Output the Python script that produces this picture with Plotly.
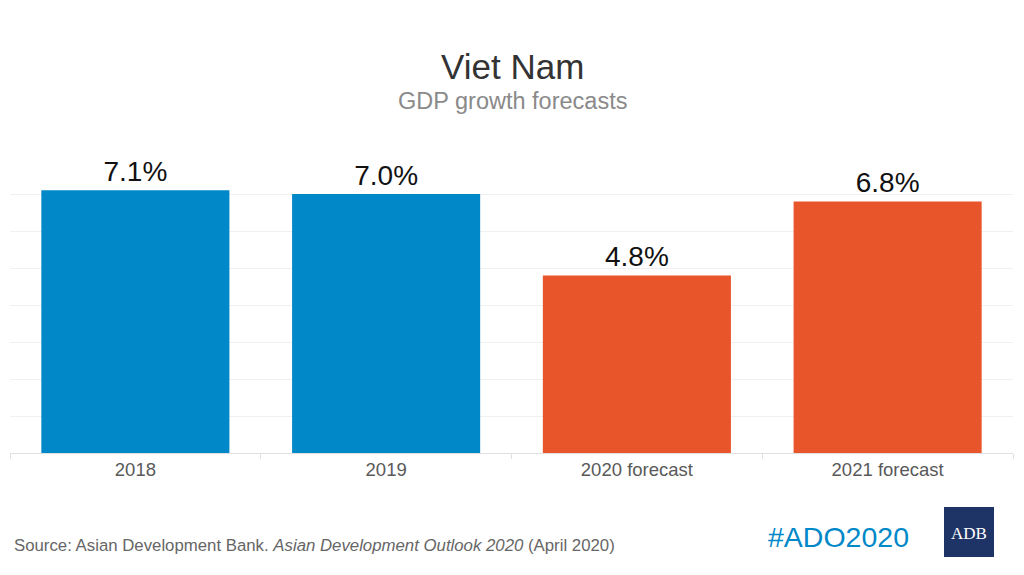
import plotly.graph_objects as go

categories = ["2018", "2019", "2020 forecast", "2021 forecast"]
growth = [7.1, 7.0, 4.8, 6.8]
bar_colors = ["#0088c8", "#0088c8", "#e8552b", "#e8552b"]
labels = [f"{v:.1f}%" for v in growth]

W, H = 1024, 575
L, R, T, B = 10, 11, 157, 122
pw, ph = W - L - R, H - T - B

def px(x):
    return (x - L) / pw

def py(y):
    return (H - B - y) / ph

fig = go.Figure()
fig.add_trace(go.Bar(
    x=categories, y=growth, marker_color=bar_colors, marker_line_width=0,
    width=0.75, text=labels, textposition="outside", cliponaxis=False,
    textfont=dict(family="Liberation Sans, Arial", size=28, color="#111111"),
))

fig.update_layout(
    width=W, height=H, margin=dict(l=L, r=R, t=T, b=B),
    paper_bgcolor="white", plot_bgcolor="white", showlegend=False,
    font=dict(family="Liberation Sans, Arial"),
    xaxis=dict(tickfont=dict(size=18.5, color="#595959"), showline=True,
               linecolor="#e0e0e0", linewidth=1, tickson="boundaries",
               ticks="outside", ticklen=5, tickcolor="#e0e0e0", showgrid=False),
    yaxis=dict(range=[0, 8], dtick=1, showticklabels=False, showgrid=True,
               gridcolor="#f0f0f0", gridwidth=1, zeroline=False),
)

annotations = [
    dict(text="Viet Nam", x=px(512), y=py(66), font=dict(size=35, color="#333333")),
    dict(text="GDP growth forecasts", x=px(512), y=py(101), font=dict(size=23.5, color="#8a8a8a")),
    dict(text="Source: Asian Development Bank. <i>Asian Development Outlook 2020</i> (April 2020)",
         x=px(12), y=py(545), xanchor="left", font=dict(size=16.8, color="#666666")),
    dict(text="#ADO2020", x=px(911), y=py(537), xanchor="right", font=dict(size=28.5, color="#0088c8")),
    dict(text="ADB", x=px(969), y=py(533), font=dict(size=17, color="white", family="Liberation Serif, Times New Roman")),
]
for a in annotations:
    a.setdefault("xanchor", "center")
    a.update(xref="paper", yref="paper", yanchor="middle", showarrow=False)
fig.update_layout(annotations=annotations)

fig.add_shape(type="rect", xref="paper", yref="paper",
              x0=px(944), x1=px(994), y0=py(557), y1=py(507),
              fillcolor="#1f3466", line_width=0, layer="below")

fig.write_html("out.html", config={"displayModeBar": False},
               post_script="document.body.style.margin='0';")
